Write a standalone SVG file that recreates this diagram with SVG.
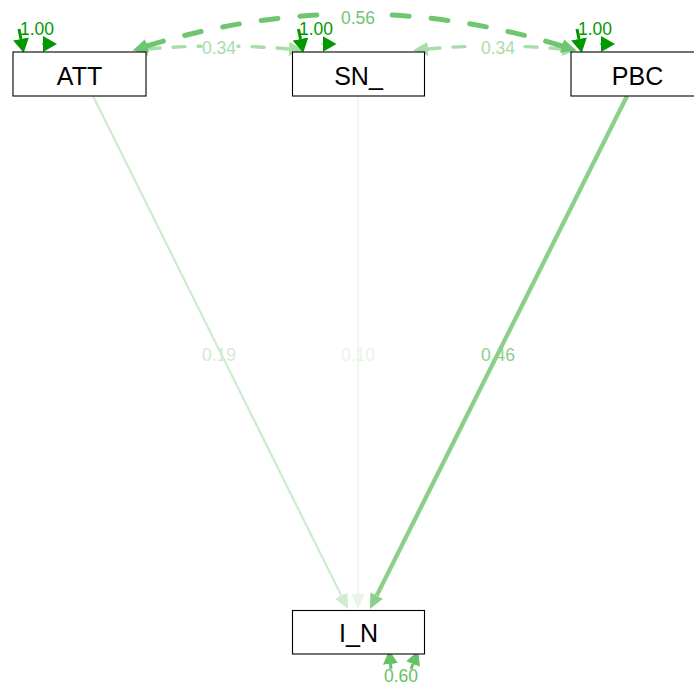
<svg xmlns="http://www.w3.org/2000/svg" width="694" height="687" viewBox="0 0 694 687">
  <style>
    .box { fill: #ffffff; stroke: #000000; stroke-width: 1.1; }
    .nlab { font-family: "Liberation Sans", Arial, sans-serif; font-size: 25px; fill: #000000; text-anchor: middle; }
    .elab { font-family: "Liberation Sans", Arial, sans-serif; font-size: 17.5px; text-anchor: middle; }
    .edge { fill: none; stroke-linecap: butt; }
    .cov56 { fill: none; stroke: #70C670; stroke-width: 5; stroke-linecap: round; stroke-dasharray: 17 22; }
    .cov34 { fill: none; stroke: #A8DCA8; stroke-width: 3.4; stroke-linecap: round; stroke-dasharray: 12 13; }
    .var { fill: none; stroke: #009900; }
  </style>
  <defs>
    <marker id="hd100" markerUnits="userSpaceOnUse" viewBox="0 0 14 16" markerWidth="14" markerHeight="16" refX="0" refY="8" orient="auto-start-reverse"><path d="M0,0 L14,8 L0,16 z" fill="#009900"/></marker>
    <marker id="hd60" markerUnits="userSpaceOnUse" viewBox="0 0 14 15" markerWidth="14" markerHeight="15" refX="0" refY="7.5" orient="auto-start-reverse"><path d="M0,0 L14,7.5 L0,15 z" fill="#66C266"/></marker>
    <marker id="hd56" markerUnits="userSpaceOnUse" viewBox="0 0 15 14" markerWidth="15" markerHeight="14" refX="0" refY="7" orient="auto-start-reverse"><path d="M0,0 L15,7 L0,14 z" fill="#70C670"/></marker>
    <marker id="hd46" markerUnits="userSpaceOnUse" viewBox="0 0 15 14" markerWidth="15" markerHeight="14" refX="0" refY="7" orient="auto-start-reverse"><path d="M0,0 L15,7 L0,14 z" fill="#8AD08A"/></marker>
    <marker id="hd34" markerUnits="userSpaceOnUse" viewBox="0 0 15 14" markerWidth="15" markerHeight="14" refX="0" refY="7" orient="auto-start-reverse"><path d="M0,0 L15,7 L0,14 z" fill="#A8DCA8"/></marker>
    <marker id="hd19" markerUnits="userSpaceOnUse" viewBox="0 0 15 14" markerWidth="15" markerHeight="14" refX="0" refY="7" orient="auto-start-reverse"><path d="M0,0 L15,7 L0,14 z" fill="#CFECCF"/></marker>
    <marker id="hd10" markerUnits="userSpaceOnUse" viewBox="0 0 15 14" markerWidth="15" markerHeight="14" refX="0" refY="7" orient="auto-start-reverse"><path d="M0,0 L15,7 L0,14 z" fill="#E6F5E6"/></marker>
  </defs>

  <!-- connectors: regressions, covariances, variances -->
  <g id="connectors">
    <!-- regressions onto I_N -->
    <path class="edge" d="M93,96 L341.3,595.6" stroke="#CFECCF" stroke-width="2.3" marker-end="url(#hd19)"/>
    <path class="edge" d="M358,96 L358,594" stroke="#E6F5E6" stroke-width="1.4" marker-end="url(#hd10)"/>
    <path class="edge" d="M627,96 L376.7,595.6" stroke="#8AD08A" stroke-width="4.3" marker-end="url(#hd46)"/>
    <text class="elab" x="219" y="361" fill="#CFECCF">0.19</text>
    <text class="elab" x="358" y="361" fill="#E6F5E6">0.10</text>
    <text class="elab" x="498" y="361" fill="#8AD08A">0.46</text>

    <!-- covariances: each curve drawn as two halves running from its ends toward the label -->
    <g id="cov-ATT-SN">
      <path class="cov34" d="M148,49 Q174.7,46.7 201,46.2" marker-start="url(#hd34)"/>
      <path class="cov34" d="M289,49 Q263.5,46.8 238,46.2" marker-start="url(#hd34)"/>
      <text class="elab" x="219" y="53.5" fill="#A8DCA8">0.34</text>
    </g>
    <g id="cov-SN-PBC">
      <path class="cov34" d="M428,49 Q452.5,46.8 477,46.2" marker-start="url(#hd34)"/>
      <path class="cov34" d="M562,49 Q539.5,47 517,46.3" marker-start="url(#hd34)"/>
      <text class="elab" x="498" y="53.5" fill="#A8DCA8">0.34</text>
    </g>
    <g id="cov-ATT-PBC">
      <path class="cov56" d="M147,46 Q237.1,18.3 327,14.6" marker-start="url(#hd56)"/>
      <path class="cov56" d="M562,46 Q471.6,18.05 381,14.5" marker-start="url(#hd56)"/>
      <text class="elab" x="358" y="24" fill="#70C670">0.56</text>
    </g>

    <!-- variances of ATT, SN_, PBC -->
    <g id="var-ATT">
      <path class="var" d="M19,29 L21,39" stroke-width="3" marker-end="url(#hd100)"/>
      <path class="var" d="M42,44 L43,44" stroke-width="1" marker-end="url(#hd100)"/>
      <text class="elab" x="37" y="35" fill="#009900">1.00</text>
    </g>
    <g id="var-SN">
      <path class="var" d="M298.5,29 L300.5,39" stroke-width="3" marker-end="url(#hd100)"/>
      <path class="var" d="M321.5,44 L322.5,44" stroke-width="1" marker-end="url(#hd100)"/>
      <text class="elab" x="316" y="35" fill="#009900">1.00</text>
    </g>
    <g id="var-PBC">
      <path class="var" d="M577,29 L579,39" stroke-width="3" marker-end="url(#hd100)"/>
      <path class="var" d="M600,44 L601,44" stroke-width="1" marker-end="url(#hd100)"/>
      <text class="elab" x="595" y="35" fill="#009900">1.00</text>
    </g>

    <!-- residual variance of I_N -->
    <g id="var-IN">
      <path d="M391,669 L390.5,664" stroke="#66C266" stroke-width="3" fill="none" marker-end="url(#hd60)"/>
      <path d="M411,669 L413,664" stroke="#66C266" stroke-width="3" fill="none" marker-end="url(#hd60)"/>
      <text class="elab" x="401" y="682" fill="#66C266">0.60</text>
    </g>
  </g>

  <!-- nodes -->
  <g id="node-ATT">
    <rect class="box" x="13" y="52" width="133" height="44"/>
    <text class="nlab" x="79.5" y="85">ATT</text>
  </g>
  <g id="node-SN_">
    <rect class="box" x="292.5" y="52" width="132" height="44"/>
    <text class="nlab" x="358.5" y="85">SN_</text>
  </g>
  <g id="node-PBC">
    <rect class="box" x="571" y="52" width="133" height="44"/>
    <text class="nlab" x="637.5" y="85">PBC</text>
  </g>
  <g id="node-I_N">
    <rect class="box" x="292.5" y="610.5" width="132" height="43.5"/>
    <text class="nlab" x="358.5" y="642">I_N</text>
  </g>
</svg>
